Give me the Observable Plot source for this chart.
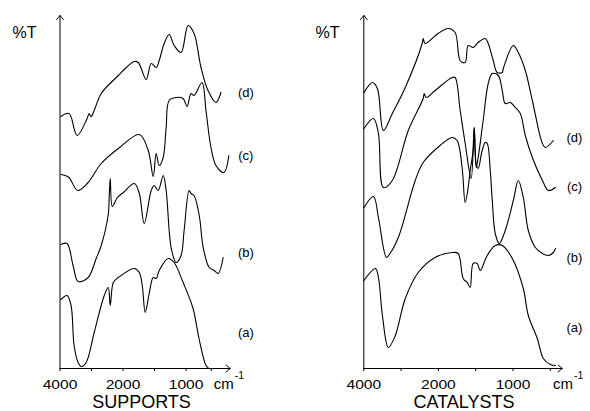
<!DOCTYPE html>
<html>
<head>
<meta charset="utf-8">
<script src="https://cdn.jsdelivr.net/npm/d3@7"></script>
<script src="https://cdn.jsdelivr.net/npm/@observablehq/plot@0.6"></script>
<style>
  body { margin: 0; background: #fff; }
  #wrap { display: flex; width: 590px; height: 411px; }
  #wrap svg { display: block; }
</style>
</head>
<body>
<div id="wrap"></div>
<script>
// ---- data: [wavenumber (cm-1), transmittance reading (offset, arbitrary units)] ----
const supportsA = [[3968,69],[3777,73],[3649,63],[3553,23],[3426,6],[3330,2],[3171,6],[2915,36],[2596,73],[2469,81],[2405,63],[2309,86],[2150,91],[1821,100],[1742,96],[1695,83],[1648,56],[1585,75],[1521,91],[1474,90],[1426,98],[1284,110],[1189,106],[1047,86],[889,60],[795,30],[684,3],[652,1]];
const supportsB = [[3968,124],[3777,125],[3585,103],[3426,87],[3107,91],[2852,110],[2692,123],[2469,154],[2437,173],[2405,190],[2340,162],[2181,171],[1995,176],[1821,185],[1742,175],[1664,145],[1553,178],[1505,183],[1442,178],[1363,193],[1316,178],[1237,121],[1158,106],[1079,113],[1031,138],[952,178],[921,175],[873,173],[791,153],[728,121],[633,101],[554,98],[491,95],[412,111]];
const supportsC = [[3968,194],[3840,193],[3713,191],[3436,178],[3107,186],[2692,205],[2150,220],[1742,234],[1600,218],[1521,192],[1474,215],[1426,203],[1363,211],[1316,241],[1269,268],[1158,271],[1047,270],[984,262],[921,275],[873,273],[747,286],[684,258],[605,221],[526,203],[400,196],[321,213]];
const supportsD = [[3968,252],[3713,255],[3458,233],[3139,250],[3075,255],[3011,252],[2915,258],[2692,275],[2150,293],[1948,301],[1821,307],[1758,306],[1632,289],[1553,305],[1474,301],[1426,308],[1347,325],[1268,334],[1189,323],[1079,316],[968,343],[873,335],[763,301],[652,278],[526,266],[447,276]];

const catalystsA = [[3995,88],[3688,100],[3608,91],[3501,53],[3341,21],[3155,33],[2888,70],[2541,96],[2088,111],[1816,116],[1735,115],[1668,90],[1614,86],[1574,81],[1534,105],[1480,105],[1440,98],[1346,113],[1238,123],[1144,123],[1009,110],[862,80],[795,53],[674,30],[593,10],[499,4],[431,3]];
const catalystsB = [[3995,161],[3741,172],[3608,151],[3394,111],[3315,114],[3075,131],[2621,188],[2408,206],[1977,223],[1816,231],[1749,228],[1682,201],[1641,166],[1601,181],[1574,198],[1534,218],[1520,241],[1494,205],[1467,200],[1413,218],[1373,226],[1345,225],[1305,198],[1278,168],[1238,135],[1184,125],[1104,138],[996,168],[929,188],[862,171],[795,138],[700,121],[606,115],[526,113],[459,116],[431,120]];
const catalystsC = [[3995,240],[3741,250],[3608,235],[3475,181],[3235,188],[2808,238],[2408,270],[2381,275],[2328,271],[2088,278],[1816,291],[1776,291],[1708,258],[1641,225],[1561,190],[1520,241],[1494,201],[1467,211],[1400,248],[1332,285],[1278,295],[1197,293],[1144,278],[1104,265],[1036,266],[969,261],[902,255],[835,233],[741,211],[606,188],[526,178],[431,181]];
const catalystsD = [[3995,276],[3768,286],[3635,280],[3475,238],[3235,255],[2888,281],[2435,325],[2408,330],[2355,325],[2008,335],[1870,340],[1776,336],[1708,308],[1641,306],[1601,323],[1534,321],[1467,326],[1372,330],[1332,325],[1265,308],[1211,296],[1144,296],[1130,300],[996,323],[929,316],[835,298],[741,268],[606,225],[566,221],[459,228]];

// ---- labels / ticks ----
const curveNames = ["(a)", "(b)", "(c)", "(d)"];
const supportsLabelT = [36, 116, 213, 276];
const catalystsLabelT = [41, 111, 182, 231];
const labeledTicks = [4000, 2000, 1000];
const supportsTicks = [4000, 3000, 2000, 1500, 1000, 600];
const catalystsTicks = [4000, 3000, 2000, 1500, 1000, 500];
const titles = ["SUPPORTS", "CATALYSTS"];
const yLabel = "%T";
const unitText = "cm";
const unitExp = "-1";

const FONT = "Liberation Sans, Arial, sans-serif";
const Y_TOP = 353;
// wavenumber axis: scale halves above 2000 cm-1 (as on the instrument chart)
const wavenumberTransform = w => (w >= 2000 ? (4000 - w) / 2 : 1000 + (2000 - w));
const wavenumberInverse = p => (p <= 1000 ? 4000 - 2 * p : 2000 - (p - 1000));

function panel(cfg) {
  const marks = [
    Plot.arrow([0], {x1: 4000, y1: 0, x2: 4000, y2: Y_TOP, stroke: "black", strokeWidth: 1, headLength: 8, headAngle: 80}),
    Plot.arrow([0], {x1: 4000, y1: 0, x2: cfg.axisEnd, y2: 0, stroke: "black", strokeWidth: 1, headLength: 8, headAngle: 80}),
    Plot.axisX({ticks: cfg.ticks.map(wavenumberTransform), anchor: "bottom", tickSize: 3, tickPadding: 9, label: null,
      tickFormat: p => { const w = Math.round(wavenumberInverse(p)); return labeledTicks.includes(w) ? String(w) : ""; },
      fontSize: 12, fontFamily: FONT}),
    ...cfg.curves.map(c => Plot.line(c, {x: d => d[0], y: d => d[1], curve: "catmull-rom", stroke: "black", strokeWidth: 1.1})),
    Plot.text(curveNames, {x: cfg.labelX, y: (d, i) => cfg.labelT[i], text: d => d, fontSize: 13, fontFamily: FONT, textAnchor: "middle", lineAnchor: "middle", ariaLabel: "curve label"}),
    Plot.text([yLabel], {frameAnchor: "top-left", dx: cfg.pctX, dy: 22, textAnchor: "start", lineAnchor: "bottom", fontSize: 16, fontFamily: FONT, ariaLabel: "percent"}),
    Plot.text([unitText], {x: cfg.unitX, y: 0, dy: 20.5, textAnchor: "start", lineAnchor: "bottom", fontSize: 15, fontFamily: FONT}),
    Plot.text([unitExp], {x: cfg.unitX, y: 0, dx: 21, dy: 10.5, textAnchor: "start", lineAnchor: "bottom", fontSize: 10.5, fontFamily: FONT, ariaLabel: "unit exp"}),
    Plot.text([cfg.title], {frameAnchor: "bottom-left", dx: cfg.titleX, dy: cfg.titleDy, textAnchor: "middle", lineAnchor: "bottom", fontSize: 18, fontFamily: FONT})
  ];
  return Plot.plot({
    width: 295, height: 411,
    marginTop: 15, marginBottom: 43, marginLeft: 0, marginRight: 0,
    style: {background: "white", color: "black", fontFamily: FONT},
    x: {type: "linear", transform: wavenumberTransform, domain: [0, 3000], range: cfg.xRange},
    y: {domain: [0, Y_TOP], range: [368, 15], axis: null},
    marks
  });
}

const left = panel({
  curves: [supportsA, supportsB, supportsC, supportsD],
  labelT: supportsLabelT, labelX: 52,
  xRange: [59.5, 248.6], axisEnd: 300, ticks: supportsTicks,
  pctX: 12, unitX: 560, title: titles[0], titleX: 141, titleDy: 39.5
});
const right = panel({
  curves: [catalystsA, catalystsB, catalystsC, catalystsD],
  labelT: catalystsLabelT, labelX: 176,
  xRange: [68.3, 292.1], axisEnd: 340, ticks: catalystsTicks,
  pctX: 20, unitX: 465, title: titles[1], titleX: 168.5, titleDy: 39.5
});

const wrap = document.getElementById("wrap");
wrap.append(left, right);

function stretch(sel, f) {
  document.querySelectorAll(sel).forEach(t => {
    if (!t.textContent) return;
    const L = t.getComputedTextLength();
    t.setAttribute("textLength", (L * f).toFixed(1));
    t.setAttribute("lengthAdjust", "spacingAndGlyphs");
  });
}
stretch('g[aria-label="x-axis tick label"] text', 1.3);
stretch('g[aria-label="curve label"] text', 1.26);
stretch('g[aria-label="percent"] text', 1.22);
stretch('g[aria-label="unit exp"] text', 1.15);
</script>
</body>
</html>
